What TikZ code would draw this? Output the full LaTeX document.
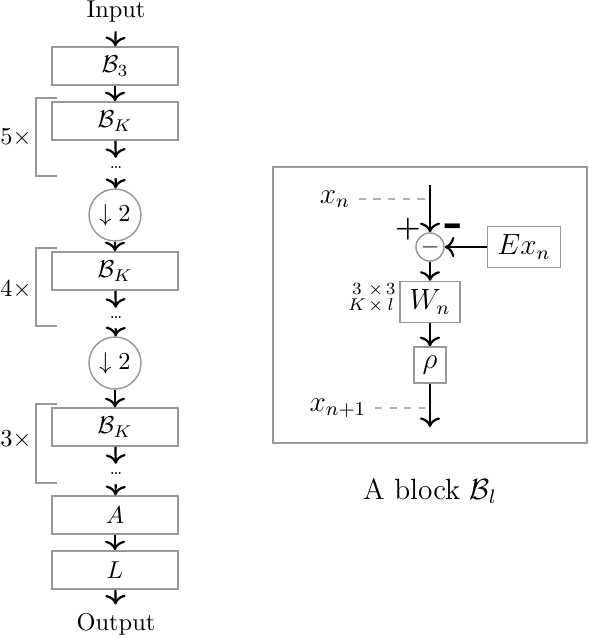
\documentclass[tikz,border=0pt]{standalone}
\usetikzlibrary{arrows.meta}

\begin{document}
\begin{tikzpicture}[x=0.41pt,y=-0.41pt,
  blk/.style={draw=gray!80,semithick,minimum width=51.7pt,minimum height=15.6pt,inner sep=0pt},
  pool/.style={draw=gray!80,semithick,circle,minimum size=21.3pt,inner sep=0pt},
  dotsnode/.style={minimum height=8pt,inner sep=0pt},
  arr/.style={-{To[scale=1.1]},line width=0.9pt,black},
  brk/.style={draw=gray!80,semithick},
  hint/.style={gray!60,dashed,semithick}]
\useasboundingbox (0,0) rectangle (590,638);

% main chain
\node (in) at (116,12) {Input};
\node[blk] (b3) at (115,66) {$\mathcal{B}_3$};
\node[blk] (bk1) at (115,121) {$\mathcal{B}_K$};
\node[dotsnode] (d1) at (116,168) {\scriptsize\dots};
\node[pool] (ds1) at (115,215) {$\downarrow 2$};
\node[blk] (bk2) at (115,271) {$\mathcal{B}_K$};
\node[dotsnode] (d2) at (116,318) {\scriptsize\dots};
\node[pool] (ds2) at (115,363) {$\downarrow 2$};
\node[blk] (bk3) at (115,427) {$\mathcal{B}_K$};
\node[dotsnode] (d3) at (116,474) {\scriptsize\dots};
\node[blk] (a) at (115,515) {$A$};
\node[blk] (l) at (115,570) {$L$};
\node (out) at (116,624) {Output};

\draw[arr] (in) -- (b3);
\draw[arr] (b3) -- (bk1);
\draw[arr] (bk1) -- (d1);
\draw[arr] (d1) -- (ds1);
\draw[arr] (ds1) -- (bk2);
\draw[arr] (bk2) -- (d2);
\draw[arr] (d2) -- (ds2);
\draw[arr] (ds2) -- (bk3);
\draw[arr] (bk3) -- (d3);
\draw[arr] (d3) -- (a);
\draw[arr] (a) -- (l);
\draw[arr] (l) -- (out);

% repetitions
\draw[brk] (57,98) -- (36,98) -- (36,176) -- (57,176);
\draw[brk] (57,248) -- (36,248) -- (36,326) -- (57,326);
\draw[brk] (57,404) -- (36,404) -- (36,483) -- (57,483);
\node (r5) at (16,138) {$5\times$};
\node (r4) at (16,290) {$4\times$};
\node (r3) at (16,440) {$3\times$};

% one block
\draw[gray!80,thick] (273,167) rectangle (587,443);
\coordinate (top) at (430,185);
\node[pool,minimum size=11.5pt] (sub) at (430,247) {$-$};
\node[blk,minimum width=30pt,minimum height=17pt] (ex) at (524,247) {\large$Ex_n$};
\node[blk,minimum width=24.6pt,minimum height=16.8pt] (wn) at (430,302) {\large$W_n$};
\node[blk,minimum width=13pt,minimum height=14.8pt] (rho) at (430,365) {\large$\rho$};
\coordinate (bot) at (430,427);

\draw[arr] (top) -- (sub);
\draw[arr] (ex) -- (sub);
\draw[arr] (sub) -- (wn);
\draw[arr] (wn) -- (rho);
\draw[arr] (rho) -- (bot);

\node (xn) at (335,199) {\large$x_n$};
\node (xn1) at (338,408) {\large$x_{n+1}$};
\draw[hint] (xn.east) -- (xn.east -| top);
\draw[hint,shorten >=2pt] (xn1.east) -- (xn1.east -| top);

\node (plus) at (408,229) {\large\bfseries +};
\node (minus) at (454,231) {\huge\bfseries -};
\node[anchor=east,inner sep=0pt,font=\scriptsize] (dims) at ([xshift=-1.3pt,yshift=1.5pt]wn.west)
  {\begin{tabular}{@{}c@{\hspace{1pt}}c@{\hspace{1pt}}c@{}}$3$&$\times$&$3$\\[-1.5pt]$K$&$\times$&$l$\end{tabular}};

\node (cap) at (430,491) {\large A block $\mathcal{B}_l$};

\end{tikzpicture}
\end{document}
